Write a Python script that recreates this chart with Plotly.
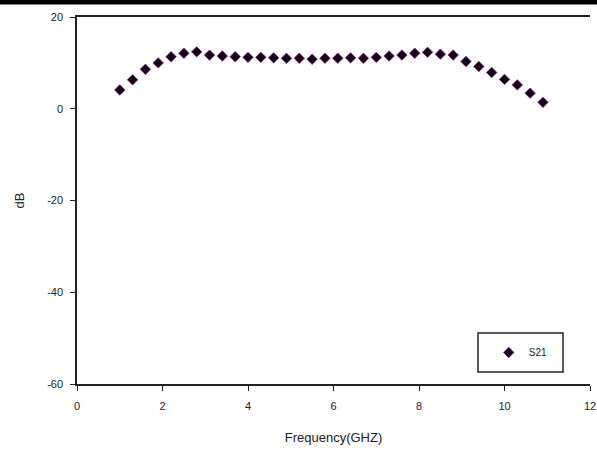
import plotly.graph_objects as go

freq = [round(1 + 0.3 * i, 1) for i in range(34)]
s21 = [4.1, 6.3, 8.6, 10.0, 11.35, 12.1, 12.4, 11.7, 11.5, 11.35,
       11.2, 11.2, 11.1, 11.0, 11.0, 10.8, 11.0, 11.0, 11.1,
       11.0, 11.2, 11.5, 11.7, 12.1, 12.3, 11.9, 11.7, 10.3, 9.2,
       7.9, 6.4, 5.2, 3.4, 1.4]
x_ticks = [0, 2, 4, 6, 8, 10, 12]
y_ticks = [-60, -40, -20, 0, 20]
y_labels = ["-60", "-40", "-20", "0", "20"]

fig = go.Figure()
fig.add_trace(go.Scatter(
    x=freq, y=s21, mode="markers", name="S21",
    marker=dict(symbol="diamond", size=8, color="#140014",
                line=dict(color="#7a1a7a", width=0.8)),
))

fig.update_layout(
    width=597, height=450,
    margin=dict(l=77, r=7, t=17, b=66, autoexpand=False),
    paper_bgcolor="white", plot_bgcolor="white",
    font=dict(family="Liberation Sans, Arial, sans-serif", size=11, color="#222"),
    showlegend=True,
    legend=dict(x=0.865, y=0.086, xanchor="center", yanchor="middle",
                borderwidth=0, bgcolor="rgba(0,0,0,0)",
                font=dict(size=10), itemwidth=30),
    xaxis=dict(range=[0, 12], tickvals=x_ticks, showgrid=False, zeroline=False,
               showline=True, linecolor="#222", linewidth=1.5, mirror=True,
               ticks="outside", ticklen=5, tickcolor="#222",
               ticklabelstandoff=6, automargin=False,
               title=dict(text="Frequency(GHZ)", standoff=22)),
    yaxis=dict(range=[-60, 20], tickvals=y_ticks, ticktext=y_labels,
               showgrid=False, zeroline=False,
               showline=True, linecolor="#222", linewidth=1.5,
               ticks="outside", ticklen=5, tickcolor="#222",
               ticklabelstandoff=5, automargin=False,
               title=dict(text="dB", standoff=20)),
    shapes=[dict(type="rect", xref="paper", yref="paper",
                 x0=-77/513, x1=1 + 7/513, y0=1 + 12.5/367, y1=1 + 17/367,
                 fillcolor="black", line=dict(width=0)),
            dict(type="rect", xref="paper", yref="paper",
                 x0=(478-77)/513, x1=(563-77)/513,
                 y0=(384-372)/367, y1=(384-333)/367,
                 fillcolor="rgba(0,0,0,0)", line=dict(color="#222", width=1.5))],
)

fig.write_html("out.html")
